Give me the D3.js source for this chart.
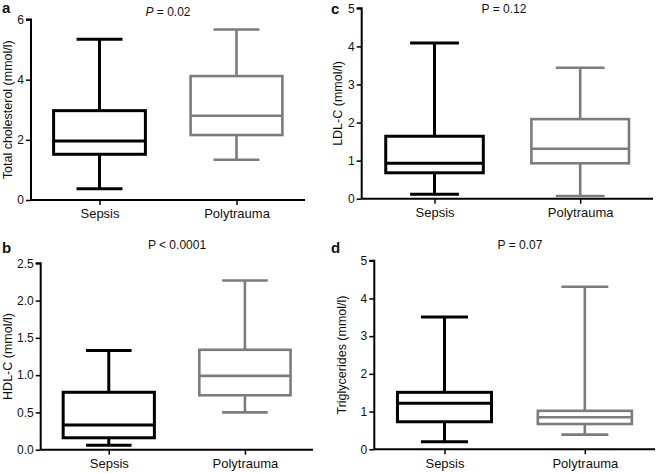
<!DOCTYPE html>
<html><head><meta charset="utf-8">
<script src="https://cdn.jsdelivr.net/npm/d3@7"></script>
<style>body{margin:0;background:#fff}svg{display:block;font-family:"Liberation Sans",Arial,sans-serif}</style>
</head><body>
<svg id="c" width="661" height="473"></svg>
<script>
const categories = ["Sepsis", "Polytrauma"];
// [min, q1, median, q3, max] per category
const totalChol = [[0.37, 1.52, 1.96, 2.97, 5.34], [1.34, 2.16, 2.80, 4.12, 5.67]];
const hdlC = [[0.06, 0.16, 0.33, 0.77, 1.33], [0.50, 0.73, 0.99, 1.34, 2.27]];
const ldlC = [[0.12, 0.68, 0.93, 1.64, 4.09], [0.07, 0.93, 1.31, 2.09, 3.44]];
const trig = [[0.20, 0.73, 1.22, 1.51, 3.51], [0.39, 0.67, 0.85, 1.02, 4.31]];
const ticksA = [0, 2, 4, 6];
const ticksB = [0, 0.5, 1.0, 1.5, 2.0, 2.5];
const ticksC = [0, 1, 2, 3, 4, 5];
const ticksD = [0, 1, 2, 3, 4, 5];

const svg = d3.select("#c");
const colors = ["#000000", "#7c7c7c"];

const panels = [
  {letter:"a", data: totalChol, ticks: ticksA, fmt: d3.format("d"), max:6, ylab:"Total cholesterol (mmol/l)",
   x0:31, x1:305, y0:200, y1:19.5, pItalic:true, pRest:" = 0.02", pText:"P", px:168, py:16, lx:2, ly:13, labx:12},
  {letter:"c", data: ldlC, ticks: ticksC, fmt: d3.format("d"), max:5, ylab:"LDL-C (mmol/l)",
   x0:361.7, x1:653, y0:198.7, y1:8.3, pItalic:false, pText:"P = 0.12", px:504, py:13, lx:331, ly:14, labx:342},
  {letter:"b", data: hdlC, ticks: ticksB, fmt: d3.format(".1f"), max:2.5, ylab:"HDL-C (mmol/l)",
   x0:40.7, x1:313, y0:449.7, y1:263.3, pItalic:false, pText:"P < 0.0001", px:177, py:249, lx:2, ly:253, labx:12},
  {letter:"d", data: trig, ticks: ticksD, fmt: d3.format("d"), max:5, ylab:"Triglycerides (mmol/l)",
   x0:374.3, x1:655, y0:449.3, y1:260.7, pItalic:false, pText:"P = 0.07", px:520, py:249, lx:331, ly:253, labx:346}
];

panels.forEach(p => {
  const g = svg.append("g");
  const x = d3.scalePoint().domain(categories).range([p.x0, p.x1]).padding(0.5);
  const y = d3.scaleLinear().domain([0, p.max]).range([p.y0, p.y1]);
  const step = x.step();
  const bw = step * 0.67;
  const cw = bw * 0.5;

  const ya = g.append("g").attr("transform", `translate(${p.x0},0)`)
    .call(d3.axisLeft(y).tickValues(p.ticks).tickFormat(p.fmt).tickSize(5).tickPadding(2));
  ya.select(".domain").attr("stroke-width", 2).attr("d", `M-5,${y(p.max)}H0V${y(0)}`);
  ya.selectAll(".tick line").attr("stroke-width", 1.5);
  ya.selectAll(".tick text").attr("font-size", 12).attr("fill", "#111");

  const xa = g.append("g").attr("transform", `translate(0,${p.y0})`)
    .call(d3.axisBottom(x).tickSize(5).tickPadding(4));
  xa.select(".domain").attr("stroke-width", 2).attr("d", `M${p.x0},0H${p.x1}`);
  xa.selectAll(".tick line").attr("stroke-width", 1.5);
  xa.selectAll(".tick text").attr("font-size", 13).attr("fill", "#111");

  categories.forEach((c, i) => {
    const [mn, q1, md, q3, mx] = p.data[i];
    const cx = x(c);
    const col = colors[i];
    const sw = i === 0 ? 3 : 2.6;
    const bg = g.append("g").attr("stroke", col).attr("stroke-width", sw).attr("fill", "none");
    bg.append("line").attr("x1", cx).attr("x2", cx).attr("y1", y(mx)).attr("y2", y(q3));
    bg.append("line").attr("x1", cx).attr("x2", cx).attr("y1", y(q1)).attr("y2", y(mn));
    bg.append("line").attr("x1", cx - cw/2).attr("x2", cx + cw/2).attr("y1", y(mx)).attr("y2", y(mx));
    bg.append("line").attr("x1", cx - cw/2).attr("x2", cx + cw/2).attr("y1", y(mn)).attr("y2", y(mn));
    bg.append("rect").attr("x", cx - bw/2).attr("width", bw).attr("y", y(q3)).attr("height", y(q1) - y(q3)).attr("fill", "#fff");
    bg.append("line").attr("x1", cx - bw/2).attr("x2", cx + bw/2).attr("y1", y(md)).attr("y2", y(md));
  });

  g.append("text").attr("transform", `translate(${p.labx},${(p.y0 + p.y1)/2}) rotate(-90)`)
    .attr("text-anchor", "middle").attr("font-size", 12.5).attr("fill", "#111").text(p.ylab);

  const pt = g.append("text").attr("x", p.px).attr("y", p.py).attr("text-anchor", "middle")
    .attr("font-size", 12).attr("fill", "#111");
  if (p.pItalic) {
    pt.append("tspan").attr("font-style", "italic").text(p.pText);
    pt.append("tspan").text(p.pRest);
  } else pt.text(p.pText);

  g.append("text").attr("x", p.lx).attr("y", p.ly).attr("font-size", 15).attr("font-weight", "bold")
    .attr("fill", "#111").text(p.letter);
});
</script>
</body></html>
